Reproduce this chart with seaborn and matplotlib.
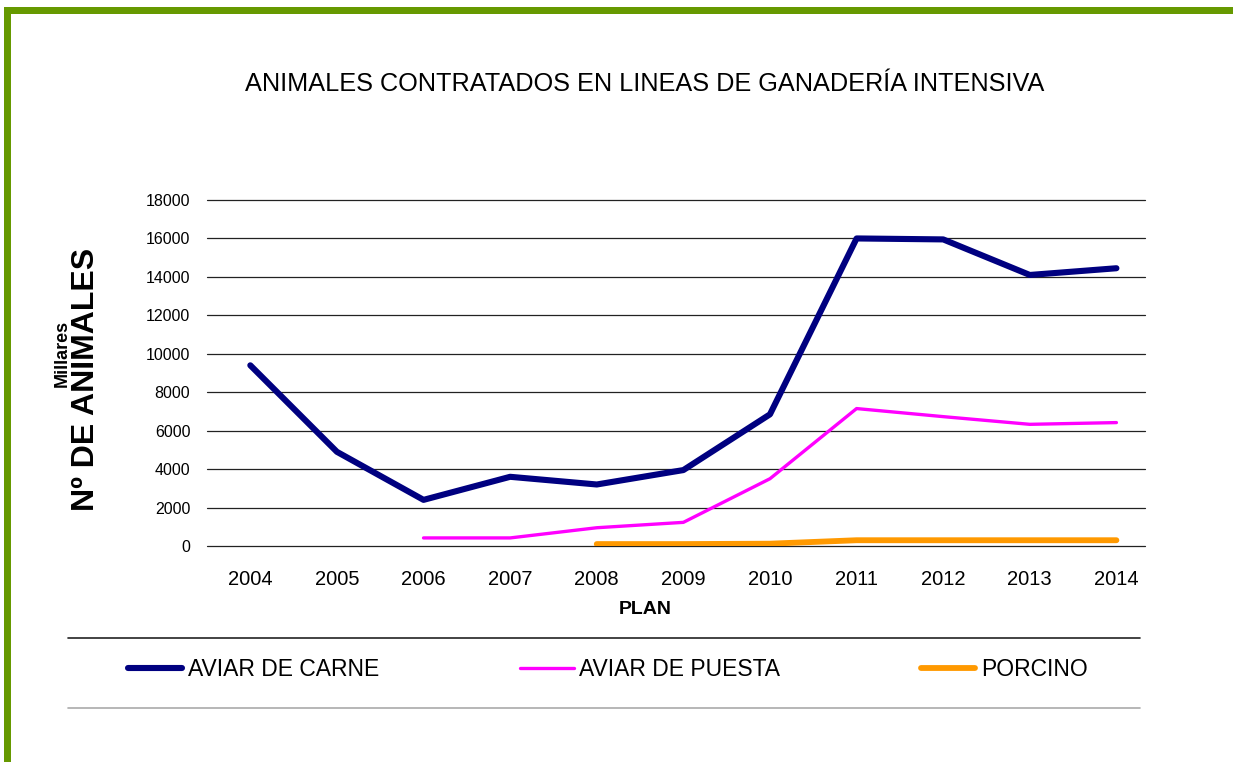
import pandas as pd
import numpy as np
import matplotlib
matplotlib.use("Agg")
import matplotlib.pyplot as plt
from matplotlib.lines import Line2D
from matplotlib.patches import Rectangle
import seaborn as sns

# Data (miles de animales)
years = [2004, 2005, 2006, 2007, 2008, 2009, 2010, 2011, 2012, 2013, 2014]
aviar_carne = [9400, 4900, 2400, 3600, 3200, 3950, 6850, 16000, 15950, 14100, 14450]
aviar_puesta = [np.nan, np.nan, 420, 420, 950, 1230, 3500, 7150, 6730, 6330, 6420]
porcino = [np.nan, np.nan, np.nan, np.nan, 100, 100, 120, 300, 300, 300, 300]
series_names = ["AVIAR DE CARNE", "AVIAR DE PUESTA", "PORCINO"]
y_ticks = [0, 2000, 4000, 6000, 8000, 10000, 12000, 14000, 16000, 18000]

sns.set_theme(style="white")
plt.rcParams['font.family'] = ['Liberation Sans', 'DejaVu Sans']
plt.rcParams['text.color'] = 'black'

df = pd.DataFrame({"year": years, series_names[0]: aviar_carne,
                   series_names[1]: aviar_puesta, series_names[2]: porcino})
long_df = df.melt(id_vars="year", var_name="serie", value_name="valor").dropna()

colors = {"AVIAR DE CARNE": "#000080", "AVIAR DE PUESTA": "#FF00FF", "PORCINO": "#FF9900"}
widths = {"AVIAR DE CARNE": 4.4, "AVIAR DE PUESTA": 2.4, "PORCINO": 4.2}

fig = plt.figure(figsize=(12.33, 7.62), dpi=100)
ax = fig.add_axes([207 / 1233, 1 - 546 / 762, (1145 - 207) / 1233, 346 / 762])

for name in series_names:
    sub = long_df[long_df["serie"] == name]
    sns.lineplot(data=sub, x="year", y="valor", ax=ax, color=colors[name],
                 linewidth=widths[name], label=name, solid_capstyle="round", zorder=3)

ax.set_xlim(2003.5, 2014.33)
ax.set_ylim(0, 18000)
ax.set_yticks(y_ticks)
ax.set_yticklabels([str(v) for v in y_ticks], fontsize=11.5)
ax.set_xticks(years)
ax.set_xticklabels([str(y) for y in years], fontsize=14.5)
ax.tick_params(axis="y", length=0, pad=12, labelcolor="black")
ax.tick_params(axis="x", length=0, pad=17, labelcolor="black")
ax.grid(axis="y", color="#222222", linewidth=0.9)
ax.grid(axis="x", visible=False)
for gl in ax.get_ygridlines():
    gl.set_clip_on(False)
for s in ax.spines.values():
    s.set_visible(False)
ax.set_xlabel("")
ax.set_ylabel("")
ax.get_legend().remove()

# Axis titles
fig.text(86 / 1233, 1 - 379 / 762, "Nº DE ANIMALES", rotation=90, fontsize=23,
         fontweight="bold", ha="center", va="center", color="black")
fig.text(62 / 1233, 1 - 353 / 762, "Millares", rotation=90, fontsize=13,
         fontweight="bold", ha="center", va="center", color="black")
fig.text(645 / 1233, 1 - 609 / 762, "PLAN", fontsize=14, fontweight="bold",
         ha="center", va="center", color="black")

# Title
fig.text(645 / 1233, 1 - 84 / 762, "ANIMALES CONTRATADOS EN LINEAS DE GANADERÍA INTENSIVA",
         fontsize=18.2, ha="center", va="center", color="black")

# Legend
handles = [Line2D([], [], color=colors[n], linewidth=widths[n], solid_capstyle="round")
           for n in series_names]
leg = fig.legend(handles, series_names, loc="center left",
                 bbox_to_anchor=(128 / 1233, 1 - 670 / 762),
                 ncol=3, frameon=False, fontsize=16.5, handlelength=2.35, handletextpad=0.25,
                 columnspacing=6.15, borderpad=0, borderaxespad=0)
for t in leg.get_texts():
    t.set_color("black")

# Separator lines around the legend
fig.add_artist(Line2D([68 / 1233, 1140 / 1233], [1 - 638 / 762] * 2, color="#222222",
                      linewidth=1.2, transform=fig.transFigure))
fig.add_artist(Line2D([68 / 1233, 1140 / 1233], [1 - 708 / 762] * 2, color="#aaaaaa",
                      linewidth=1.2, transform=fig.transFigure))

# Green frame (top and left)
green = "#669900"
fig.add_artist(Rectangle((4 / 1233, 1 - 14 / 762), 1 - 4 / 1233, 7 / 762,
                         transform=fig.transFigure, color=green, linewidth=0))
fig.add_artist(Rectangle((4 / 1233, 0), 7 / 1233, 1 - 7 / 762,
                         transform=fig.transFigure, color=green, linewidth=0))

fig.savefig("out.png", dpi=100, facecolor="white")
